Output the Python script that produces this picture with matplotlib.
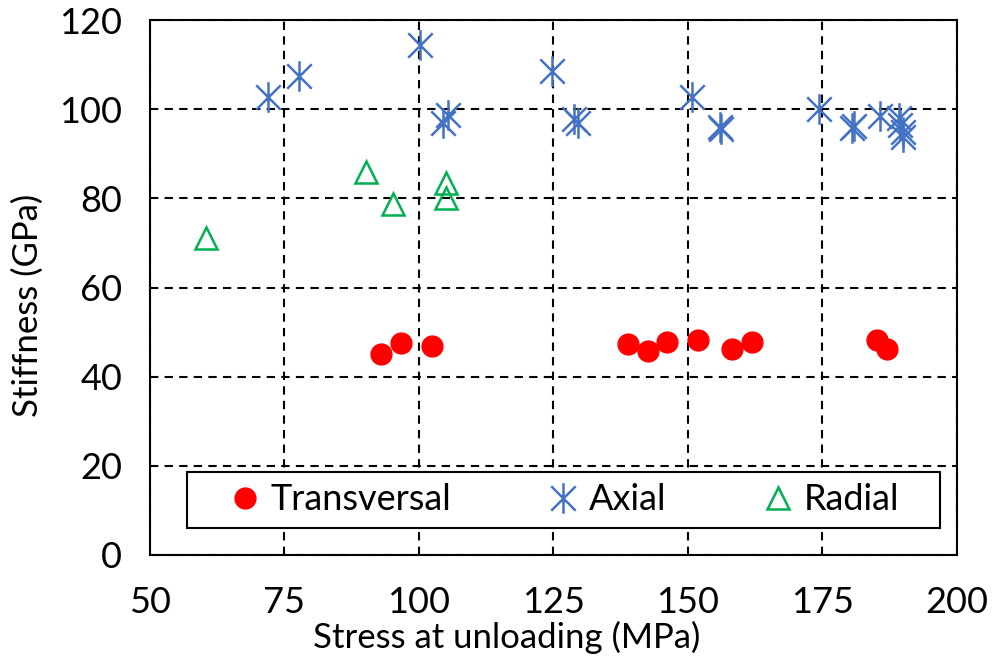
import matplotlib.pyplot as plt
from matplotlib.path import Path
from matplotlib.patches import Rectangle

plt.rcParams['font.family'] = ['Lato', 'DejaVu Sans']

# Transversal
trans_x = [92.9, 96.7, 102.4, 138.8, 142.6, 146.1, 151.9, 158.2, 161.9, 185.1, 187.0]
trans_y = [45.1, 47.6, 46.8, 47.3, 45.8, 47.8, 48.3, 46.3, 47.8, 48.3, 46.3]

# Axial
axial_x = [71.9, 77.7, 100.2, 104.5, 105.4, 124.7, 128.8, 129.5, 150.7, 155.9, 156.2,
           174.3, 180.5, 180.9, 185.7, 189.2, 189.5, 190.0, 190.0]
axial_y = [102.7, 107.5, 114.3, 96.9, 98.7, 108.5, 97.8, 97.0, 102.7, 96.0, 95.5,
           100.0, 95.7, 96.2, 98.4, 98.0, 96.5, 94.8, 93.8]

# Radial
radial_x = [60.4, 90.1, 95.2, 105.0, 105.0]
radial_y = [71.1, 85.9, 78.7, 83.4, 80.0]

# Excel style star: X plus vertical line
star = Path([(-1, -1), (1, 1), (-1, 1), (1, -1), (0, -1.25), (0, 1.25)],
            [Path.MOVETO, Path.LINETO, Path.MOVETO, Path.LINETO, Path.MOVETO, Path.LINETO])

fig = plt.figure(figsize=(9.92, 6.63), dpi=100)
ax = fig.add_axes([0.1512, 0.1629, 0.8135, 0.8069])

ax.plot(trans_x, trans_y, 'o', color='#ff0000', markersize=15, label='Transversal', zorder=3)
ax.plot(axial_x, axial_y, linestyle='none', marker=star, markersize=22, markeredgewidth=1.8,
        markerfacecolor='none', markeredgecolor='#4472c4', label='Axial', zorder=3)
ax.plot(radial_x, radial_y, '^', markersize=16, markerfacecolor='none',
        markeredgecolor='#00b050', markeredgewidth=1.8, label='Radial', zorder=3)

ax.set_xlim(50, 200)
ax.set_ylim(0, 120)
ax.set_xticks([50, 75, 100, 125, 150, 175, 200])
ax.set_yticks([0, 20, 40, 60, 80, 100, 120])
ax.grid(True, color='black', linestyle=(0, (4, 3)), linewidth=1.5)
ax.tick_params(length=0, labelsize=26)
ax.tick_params(axis='x', pad=22)
ax.tick_params(axis='y', pad=20)
for s in ax.spines.values():
    s.set_linewidth(1.5)

ax.set_xlabel('Stress at unloading (MPa)', fontsize=25)
ax.xaxis.set_label_coords(0.442, -0.124)
ax.set_ylabel('Stiffness (GPa)', fontsize=25)
ax.yaxis.set_label_coords(-0.131, 0.467)

# legend box
box = Rectangle((0.0458, 0.0505), 0.933, 0.1045, transform=ax.transAxes,
                facecolor='white', edgecolor='black', linewidth=1.5, zorder=4)
ax.add_patch(box)
leg = ax.legend(ncol=3, loc='center', bbox_to_anchor=(0.512, 0.103), fontsize=26,
                frameon=False, handletextpad=0.2, columnspacing=2.6, handlelength=1.0)
leg.set_zorder(5)

fig.savefig('out.png', dpi=100)
